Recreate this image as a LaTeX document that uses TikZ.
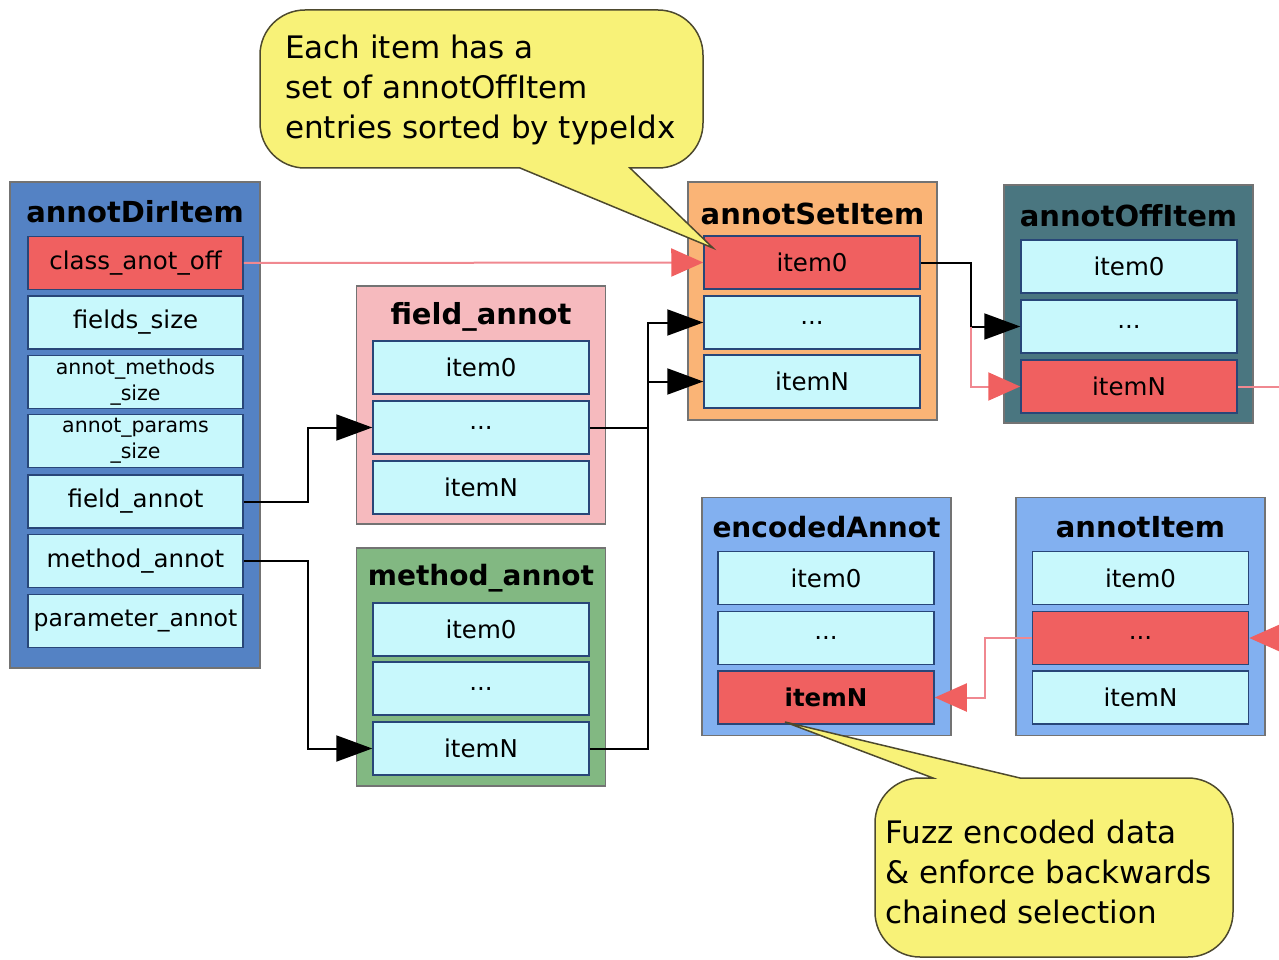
\documentclass[tikz,border=0pt]{standalone}
\usepackage{fontspec}
\setmainfont{DejaVu Sans}
\usepackage{xcolor}
\usetikzlibrary{arrows.meta}

\definecolor{dirblue}{RGB}{84,130,196}
\definecolor{cellcyan}{RGB}{200,248,252}
\definecolor{cellred}{RGB}{240,96,96}
\definecolor{fieldpink}{RGB}{246,186,190}
\definecolor{methgreen}{RGB}{130,184,130}
\definecolor{setorange}{RGB}{250,180,118}
\definecolor{offteal}{RGB}{74,118,128}
\definecolor{encblue}{RGB}{130,176,240}
\definecolor{noteyellow}{RGB}{248,242,120}
\definecolor{linkpink}{RGB}{240,136,144}
\definecolor{cellline}{RGB}{40,70,120}

\tikzset{
  structbox/.style={draw=black!55, line width=1.5pt, inner sep=0pt, minimum width=249pt, minimum height=238pt},
  cell/.style={draw=cellline, line width=1.5pt, fill=cellcyan, inner sep=0pt, minimum width=216pt, minimum height=53pt, font=\fontsize{24.5}{28}\selectfont},
  hot/.style={fill=cellred},
  boxtitle/.style={inner sep=0pt, font=\fontsize{29}{32}\selectfont\bfseries},
  blackline/.style={line width=2pt, -{Triangle[length=36pt,width=26pt]}},
  pinkline/.style={line width=2pt, draw=linkpink, -{Triangle[length=32pt,width=28pt,color=cellred]}},
  note/.style={draw=black!60!olive, line width=1.5pt, fill=noteyellow, rounded corners=45pt},
  notetext/.style={inner sep=0pt, align=left, anchor=west, font=\fontsize{31}{40}\selectfont}
}

\begin{document}
\begin{tikzpicture}[x=1pt, y=-1pt]
    \useasboundingbox (0,0) rectangle (1279,960);

    % annotDirItem
    \node[structbox, fill=dirblue, minimum width=250pt, minimum height=486pt] (dir) at (135,425) {};
    \node[boxtitle] (dirt) at (135,212) {annotDirItem};
    \node[cell, hot, minimum width=215pt] (cls) at (135.5,263) {class\_anot\_off};
    \node[cell, minimum width=215pt] (fsz) at (135.5,322.5) {fields\_size};
    \node[cell, minimum width=215pt, font=\fontsize{20.5}{26}\selectfont, align=center] (ams) at (135.5,382) {annot\_methods\\\_size};
    \node[cell, minimum width=215pt, font=\fontsize{20.5}{26}\selectfont, align=center] (aps) at (135.5,441) {annot\_params\\\_size};
    \node[cell, minimum width=215pt] (fan) at (135.5,501.5) {field\_annot};
    \node[cell, minimum width=215pt] (man) at (135.5,561) {method\_annot};
    \node[cell, minimum width=215pt, font=\fontsize{23.5}{28}\selectfont] (pan) at (135.5,621) {parameter\_annot};

    % field_annot
    \node[structbox, fill=fieldpink] (fa) at (481,405) {};
    \node[boxtitle] (fat) at (481,317) {field\_annot};
    \node[cell] (fa0) at (481,367.5) {item0};
    \node[cell] (fa1) at (481,427.5) {...};
    \node[cell] (fa2) at (481,487.5) {itemN};

    % method_annot
    \node[structbox, fill=methgreen] (ma) at (481,667) {};
    \node[boxtitle, font=\fontsize{28}{32}\selectfont\bfseries] (mat) at (481,578) {method\_annot};
    \node[cell] (ma0) at (481,629.5) {item0};
    \node[cell] (ma1) at (481,688.5) {...};
    \node[cell] (ma2) at (481,748.5) {itemN};

    % annotSetItem
    \node[structbox, fill=setorange] (set) at (812.5,301) {};
    \node[boxtitle] (sett) at (812.5,214) {annotSetItem};
    \node[cell, hot] (set0) at (812,262.5) {item0};
    \node[cell] (set1) at (812,322.5) {...};
    \node[cell] (set2) at (812,381.5) {itemN};

    % annotOffItem
    \node[structbox, fill=offteal] (off) at (1128.5,304) {};
    \node[boxtitle] (offt) at (1128.5,216) {annotOffItem};
    \node[cell] (off0) at (1129,266.5) {item0};
    \node[cell] (off1) at (1129,326.5) {...};
    \node[cell, hot] (off2) at (1129,386.5) {itemN};

    % encodedAnnot
    \node[structbox, fill=encblue] (ea) at (826.5,616.5) {};
    \node[boxtitle, font=\fontsize{28}{32}\selectfont\bfseries] (eat) at (826.5,527) {encodedAnnot};
    \node[cell] (ea0) at (826,578) {item0};
    \node[cell] (ea1) at (826,638) {...};
    \node[cell, hot, font=\fontsize{24.5}{28}\selectfont\bfseries] (ea2) at (826,697.5) {itemN};

    % annotItem
    \node[structbox, fill=encblue] (ai) at (1140.5,616.5) {};
    \node[boxtitle] (ait) at (1140.5,527) {annotItem};
    \node[cell] (ai0) at (1140.5,578) {item0};
    \node[cell, hot] (ai1) at (1140.5,638) {...};
    \node[cell] (ai2) at (1140.5,697.5) {itemN};

    % links
    \coordinate (outR) at (1279,386.5);
    \coordinate (inR) at (1281,638);
    \path (set0.east) ++(50,0) coordinate (bend);

    \draw[pinkline] (cls.east) -- (set0.west);
    \draw[blackline] (fan.east) -- ++(64,0) |- (fa1.west);
    \draw[blackline] (man.east) -- ++(64,0) |- (ma2.west);
    \draw[blackline] (fa1.east) -- ++(58,0) |- (set1.west);
    \draw[blackline] (ma2.east) -- ++(58,0) |- (set2.west);
    \draw[blackline] (set0.east) -- (bend) |- (off1.west);
    \draw[pinkline] (bend |- off1.west) |- (off2.west);
    \draw[pinkline, -] (off2.east) -- (outR);
    \draw[pinkline] (inR) -- (ai1.east);
    \draw[pinkline] (ai1.west) -- ++(-47,0) |- (ea2.east);

    % notes
    \draw[note] (480,10) -- (260,10) -- (260,168) [sharp corners] -- (520,168) -- (713,248) -- (630,168) [rounded corners=45pt] -- (703,168) -- (703,10) -- cycle;
    \node[notetext] (topnote) at (285,90) {Each item has a\\set of annotOffItem\\entries sorted by typeIdx};

    \draw[note] (1054,957) -- (875,957) -- (875,778) [sharp corners] -- (933,778) -- (785,722) -- (1020,778) [rounded corners=45pt] -- (1233,778) -- (1233,957) -- cycle;
    \node[notetext] (botnote) at (885,872) {Fuzz encoded data\\\& enforce backwards\\chained selection};
\end{tikzpicture}
\end{document}
